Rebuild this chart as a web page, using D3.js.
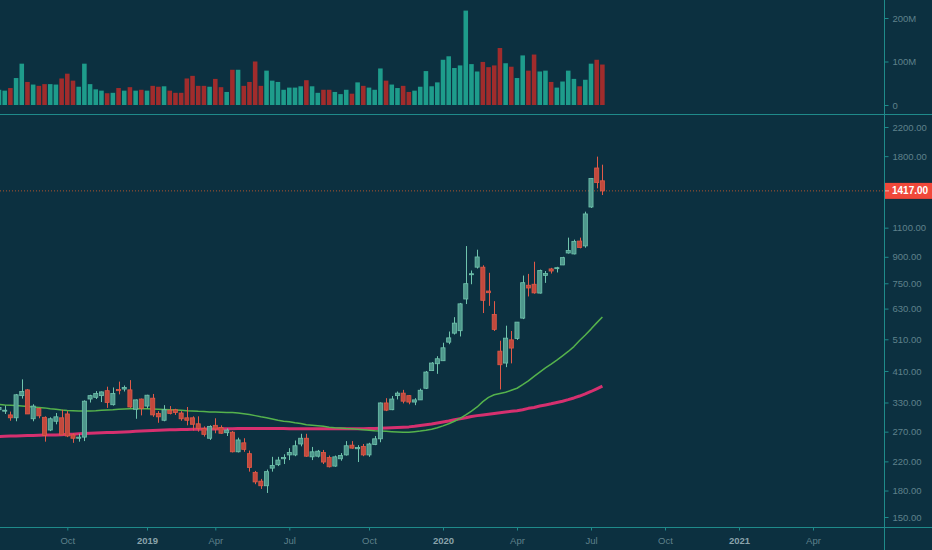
<!DOCTYPE html>
<html><head><meta charset="utf-8">
<script src="https://cdn.jsdelivr.net/npm/d3@7"></script>
<style>
html,body{margin:0;padding:0;background:#0c3040;}
svg{display:block;}
text{font-family:"Liberation Sans","DejaVu Sans",sans-serif;}
</style></head>
<body><svg id="c" width="932" height="550"></svg>
<script>
// ---- data (TSLA weekly) ----
const firstWeek = "2018-07-09", lastWeek = "2020-07-20";
const open  = [314,312,303,297,346,360,295,317,298,273,290,297,305,264,258,260,338,342,346,358,325,361,362,360,315,338,322,340,306,292,313,314,307,297,297,285,276,258,282,278,268,269,235,250,232,204,192,186,210,215,224,230,230,248,258,227,228,234,226,213,224,230,246,240,244,230,247,257,329,314,346,352,346,331,336,364,411,431,440,500,532,541,673,798,838,838,711,605,470,433,508,513,590,740,745,701,792,828,830,851,924,918,1003,970,1268,1659,1519];
const high  = [324,323,310,350,387,362,326,318,300,298,307,314,311,267,266,335,348,357,356,368,366,381,371,385,337,339,348,350,311,324,322,316,311,320,300,300,280,282,296,282,276,271,259,258,237,206,195,208,227,227,231,241,254,266,266,243,238,238,229,229,233,253,253,246,248,250,262,330,340,345,356,360,347,340,363,410,436,454,498,538,594,655,969,819,945,849,806,663,505,560,540,574,791,800,870,824,816,834,840,900,1027,1013,1027,1228,1548,1794,1697];
const low   = [306,305,291,290,339,305,290,296,252,271,284,264,260,250,252,253,330,338,331,318,323,349,356,318,295,302,317,299,287,290,304,303,291,282,272,270,261,255,267,266,262,234,234,235,205,188,182,177,205,213,216,222,228,244,227,222,226,216,211,212,221,229,240,219,228,227,246,251,311,313,337,328,326,324,336,362,410,402,440,493,527,520,650,745,830,611,642,540,361,421,432,508,586,685,698,699,752,802,808,850,920,915,954,958,1260,1442,1377];
const close = [319,313,297,348,356,305,322,301,263,295,299,264,262,258,260,333,346,351,355,330,351,358,366,320,336,317,347,303,299,314,306,308,295,292,284,276,265,280,275,267,273,235,255,239,211,191,186,205,214,222,226,234,245,258,228,235,236,219,212,227,229,245,241,242,230,248,257,329,313,338,352,333,331,336,359,407,433,446,481,515,570,651,748,801,899,667,703,546,428,514,480,574,753,726,702,819,802,816,835,895,940,1001,959,1209,1544,1500,1417];
const volumeM = [35,33,39,62,95,53,47,44,48,48,47,61,72,56,42,95,48,36,33,27,28,39,33,41,33,35,33,44,42,43,33,28,28,61,67,44,44,42,60,41,30,81,81,44,53,100,44,79,56,53,35,40,40,43,57,43,28,35,35,30,25,35,26,52,44,40,35,84,56,47,39,44,30,33,42,78,43,52,104,112,85,91,217,94,77,99,87,91,131,96,88,62,114,79,116,77,79,53,40,54,79,60,43,58,95,104,93];
const ma50 = [326,324.5,324,323,322,321,320,319,318,316,315,313.5,312.5,312,311,311,311.5,312,313,313.5,314,315,315.5,316,316,316,316,315.5,315,314.5,314,313.5,313,312,311.5,310.5,310,309,309,308.5,308,308,307,305.5,304,301.5,299,297,294.5,292,290,289,287,285.5,283,282,281,280,278.5,277.5,277,276,275.5,274.5,273.5,272.5,271.5,271,270.5,270,269.5,269,269,270,271,272.5,274.5,277.5,281,285,290,296,303,311,320,332,342,348,351,354,359,364,373,383,395,407,419,430,442,455,469,485,506,525,547,571,595];
const ma200 = [261,261.5,262,262,262.5,263,263,263.5,264,264,264,264.5,265,265,266,266.5,267,267.5,268,268.5,268.5,269,269.5,270,270.5,271,271.5,272,272.5,273,273.5,273.5,274,274,274.5,274.5,275,275,275,275.5,275.5,275.5,276,276,276,276,276,276,276,276,276,275.5,275.5,275.5,275.5,275.5,275.5,275.5,275.5,275.5,275.5,275.5,275.5,275.5,275.5,276,276,276.5,277,277.5,278,278.5,279,280,281.5,283,284.5,286.5,288.5,290.5,293,295,297,299.5,301.5,303,304.5,306,307.5,309,310.5,312,314,317,319,322,324.5,327,330,333,336.5,340.5,345,350,356,362.5,369.5];
const priceTicks = [150,180,220,270,330,410,510,630,750,900,1100,1800,2200];
const volumeTicks = [0,100,200];
const timeTicks = [["2018-10-01","Oct"],["2019-01-07","2019"],["2019-04-01","Apr"],["2019-07-01","Jul"],["2019-10-07","Oct"],["2020-01-06","2020"],["2020-04-06","Apr"],["2020-07-06","Jul"],["2020-10-05","Oct"],["2021-01-04","2021"],["2021-04-05","Apr"]];
const lastPrice = 1417;

// ---- setup ----
const W = 932, H = 550, axisX = 884;
const svg = d3.select("#c");
const C = {bg:"#0c3040", line:"#1f8a8a", txt:"#5f818b", yr:"#8aa3ab",
  upFill:"#4e978c", upStroke:"#70c4ad", dnFill:"#c2493d", dnStroke:"#e25a48",
  vUp:"#1e9c8b", vDn:"#a02c2c", g:"#55b24c", p:"#d6306f", last:"#f0483a"};
svg.append("rect").attr("width",W).attr("height",H).attr("fill",C.bg);

const parse = d3.utcParse("%Y-%m-%d");
const weeks = d3.utcMonday.range(parse(firstWeek), d3.utcDay.offset(parse(lastWeek),1));
const data = weeks.map((d,i)=>({d, o:open[i], h:high[i], l:low[i], c:close[i], v:volumeM[i], m1:ma50[i], m2:ma200[i]}));

const x = d3.scaleUtc().domain([parse("2019-01-07"), parse("2020-01-06")]).range([147, 443]);
const step = x(parse("2019-01-14")) - x(parse("2019-01-07"));
const y = d3.scaleLog().domain([150, 2200]).range([517, 127]);
const yv = d3.scaleLinear().domain([0, 200]).range([105, 18]);

svg.append("clipPath").attr("id","cp").append("rect").attr("x",0).attr("y",116).attr("width",axisX).attr("height",410);
svg.append("clipPath").attr("id","cv").append("rect").attr("x",0).attr("y",0).attr("width",axisX).attr("height",114);

// volume
const vb = step*0.8;
svg.append("g").attr("clip-path","url(#cv)").selectAll("rect").data(data).join("rect")
  .attr("x",d=>x(d.d)-vb/2).attr("width",vb)
  .attr("y",d=>yv(d.v)).attr("height",d=>yv(0)-yv(d.v))
  .attr("fill",d=>d.c>=d.o?C.vUp:C.vDn);

// price pane
const pp = svg.append("g").attr("clip-path","url(#cp)");
pp.append("line").attr("x1",0).attr("x2",axisX).attr("y1",y(lastPrice)).attr("y2",y(lastPrice))
  .attr("stroke","#b0542e").attr("stroke-width",1).attr("stroke-dasharray","1,2");

const line = key => d3.line().x(d=>x(d.d)).y(d=>y(d[key]));
pp.append("path").datum(data).attr("d",line("m2")).attr("fill","none").attr("stroke",C.p).attr("stroke-width",3).attr("stroke-linejoin","round");
pp.append("path").datum(data).attr("d",line("m1")).attr("fill","none").attr("stroke",C.g).attr("stroke-width",1.5).attr("stroke-linejoin","round");

// candles
const bw = step*0.72;
const cg = pp.selectAll("g.c").data(data).join("g");
cg.append("line").attr("x1",d=>Math.round(x(d.d))+0.5).attr("x2",d=>Math.round(x(d.d))+0.5)
  .attr("y1",d=>y(d.h)).attr("y2",d=>y(d.l))
  .attr("stroke",d=>d.c>=d.o?C.upStroke:C.dnStroke).attr("stroke-width",1);
cg.append("rect").attr("x",d=>x(d.d)-bw/2).attr("width",bw)
  .attr("y",d=>y(Math.max(d.o,d.c))).attr("height",d=>Math.max(1,Math.abs(y(d.o)-y(d.c))))
  .attr("fill",d=>d.c>=d.o?C.upFill:C.dnFill)
  .attr("stroke",d=>d.c>=d.o?C.upStroke:C.dnStroke).attr("stroke-width",0.8);

// separators
svg.append("line").attr("x1",0).attr("x2",W).attr("y1",114.5).attr("y2",114.5).attr("stroke",C.line);
svg.append("line").attr("x1",0).attr("x2",W).attr("y1",527.5).attr("y2",527.5).attr("stroke",C.line);
svg.append("line").attr("x1",axisX+0.5).attr("x2",axisX+0.5).attr("y1",0).attr("y2",H).attr("stroke",C.line);

// right price axis
const ay = d3.axisRight(y).tickValues(priceTicks).tickSize(4).tickFormat(d3.format(".2f"));
const gy = svg.append("g").attr("transform",`translate(${axisX+0.5},0)`).call(ay);
gy.select(".domain").remove();
gy.selectAll("line").attr("stroke",C.line);
gy.selectAll("text").attr("fill",C.txt).attr("font-size","9.5px").attr("x",8);

const av = d3.axisRight(yv).tickValues(volumeTicks).tickSize(4).tickFormat(d=>d===0?"0":d+"M");
const gv = svg.append("g").attr("transform",`translate(${axisX+0.5},0)`).call(av);
gv.select(".domain").remove();
gv.selectAll("line").attr("stroke",C.line);
gv.selectAll("text").attr("fill",C.txt).attr("font-size","9.5px").attr("x",8);

// bottom time axis
const tt = timeTicks.map(t=>parse(t[0]));
const lab = new Map(timeTicks.map(t=>[+parse(t[0]),t[1]]));
const ax = d3.axisBottom(x).tickValues(tt).tickSize(3).tickFormat(d=>lab.get(+d));
const gx = svg.append("g").attr("transform","translate(0,527.5)").call(ax);
gx.select(".domain").remove();
gx.selectAll("line").attr("stroke",C.line);
gx.selectAll("text").attr("font-size","9.5px").attr("y",10)
  .attr("fill",d=>/^\d/.test(lab.get(+d))?C.yr:C.txt)
  .attr("font-weight",d=>/^\d/.test(lab.get(+d))?"bold":"normal");

// last price label
const ly = y(lastPrice);
svg.append("rect").attr("x",axisX+1).attr("y",ly-8).attr("width",W-axisX-1).attr("height",16).attr("fill",C.last);
svg.append("line").attr("x1",axisX+1).attr("x2",axisX+5).attr("y1",ly).attr("y2",ly).attr("stroke","#ffffff").attr("stroke-opacity",0.6);
svg.append("text").attr("x",axisX+8).attr("y",ly+3.5).attr("fill","#ffffff").attr("font-size","10px").attr("font-weight","bold").text(d3.format(".2f")(lastPrice));
</script></body></html>
